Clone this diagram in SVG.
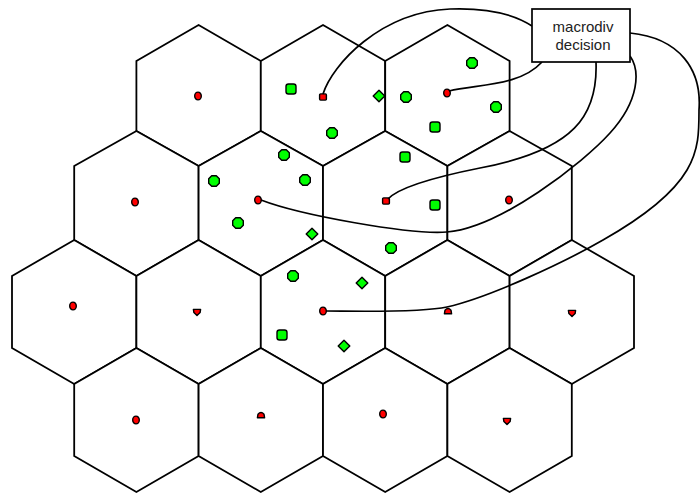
<svg xmlns="http://www.w3.org/2000/svg" xmlns:xlink="http://www.w3.org/1999/xlink" width="700" height="494" viewBox="0 0 700 494">
<style>
.cell{fill:#fff;stroke:#000;stroke-width:1.8;stroke-linejoin:miter}
.bs{fill:#f00;stroke:#000;stroke-width:1.4;stroke-linejoin:round}
.ms{fill:#00ff00;stroke:#000;stroke-width:1.4;stroke-linejoin:round}
.link{fill:none;stroke:#000;stroke-width:1.7}
.box{fill:#fff;stroke:#000;stroke-width:1.7}
.lbl{font-family:"Liberation Sans",Arial,sans-serif;font-size:15px;fill:#222;text-anchor:middle}
</style>
<defs>
<polygon id="oct" class="ms" points="-2.3,-5.3 2.3,-5.3 5.3,-2.3 5.3,2.3 2.3,5.3 -2.3,5.3 -5.3,2.3 -5.3,-2.3"/>
<rect id="sq" class="ms" x="-5" y="-5" width="10" height="10" rx="2.5"/>
<polygon id="dia" class="ms" points="0,-5.8 5.8,0 0,5.8 -5.8,0"/>
<ellipse id="bsE" class="bs" rx="3.3" ry="3.9"/>
<rect id="bsS" class="bs" x="-3.4" y="-3.1" width="6.8" height="6.2" rx="1"/>
<path id="bsH" class="bs" d="M-3.6,-2.6 L3.6,-2.6 L3.1,0.6 L0,3.6 L-3.1,0.6 Z"/>
<path id="bsT" class="bs" d="M-3.6,2.8 L-3,-0.8 Q0,-4.2 3,-0.8 L3.6,2.8 Z"/>
</defs>

<g id="cells">
<g id="cell-1-1"><polygon class="cell" points="198.6,25 260.8,61 260.8,131 198.6,166 136.4,131 136.4,61"/><use xlink:href="#bsE" x="198" y="96"/></g>
<g id="cell-1-2"><polygon class="cell" points="323,25 385.2,61 385.2,131 323,166 260.8,131 260.8,61"/><use xlink:href="#bsS" x="323" y="97"/></g>
<g id="cell-1-3"><polygon class="cell" points="447.4,25 509.6,61 509.6,131 447.4,166 385.2,131 385.2,61"/><use xlink:href="#bsE" x="447" y="93"/></g>

<g id="cell-2-1"><polygon class="cell" points="136.4,131 198.6,166 198.6,240 136.4,276 74.2,240 74.2,166"/><use xlink:href="#bsE" x="135" y="202"/></g>
<g id="cell-2-2"><polygon class="cell" points="260.8,131 323,166 323,240 260.8,276 198.6,240 198.6,166"/><use xlink:href="#bsE" x="258" y="200"/></g>
<g id="cell-2-3"><polygon class="cell" points="385.2,131 447.4,166 447.4,240 385.2,276 323,240 323,166"/><use xlink:href="#bsS" x="386" y="201"/></g>
<g id="cell-2-4"><polygon class="cell" points="509.6,131 571.8,166 571.8,240 509.6,276 447.4,240 447.4,166"/><use xlink:href="#bsE" x="509" y="200"/></g>

<g id="cell-3-1"><polygon class="cell" points="74.2,240 136.4,276 136.4,348 74.2,384 12,348 12,276"/><use xlink:href="#bsE" x="73" y="306"/></g>
<g id="cell-3-2"><polygon class="cell" points="198.6,240 260.8,276 260.8,348 198.6,384 136.4,348 136.4,276"/><use xlink:href="#bsH" x="197" y="312"/></g>
<g id="cell-3-3"><polygon class="cell" points="323,240 385.2,276 385.2,348 323,384 260.8,348 260.8,276"/><use xlink:href="#bsE" x="323" y="311"/></g>
<g id="cell-3-4"><polygon class="cell" points="447.4,240 509.6,276 509.6,348 447.4,384 385.2,348 385.2,276"/><use xlink:href="#bsT" x="448" y="311"/></g>
<g id="cell-3-5"><polygon class="cell" points="571.8,240 634,276 634,348 571.8,384 509.6,348 509.6,276"/><use xlink:href="#bsH" x="572" y="313"/></g>

<g id="cell-4-1"><polygon class="cell" points="136.4,348 198.6,384 198.6,456 136.4,492 74.2,456 74.2,384"/><use xlink:href="#bsE" x="136" y="420"/></g>
<g id="cell-4-2"><polygon class="cell" points="260.8,348 323,384 323,456 260.8,492 198.6,456 198.6,384"/><use xlink:href="#bsT" x="261" y="415"/></g>
<g id="cell-4-3"><polygon class="cell" points="385.2,348 447.4,384 447.4,456 385.2,492 323,456 323,384"/><use xlink:href="#bsE" x="383" y="414"/></g>
<g id="cell-4-4"><polygon class="cell" points="509.6,348 571.8,384 571.8,456 509.6,492 447.4,456 447.4,384"/><use xlink:href="#bsH" x="507" y="421"/></g>
</g>

<g id="mobiles">
<use id="ms1" xlink:href="#sq" x="291" y="89"/>
<use id="ms2" xlink:href="#dia" x="379" y="96"/>
<use id="ms3" xlink:href="#oct" x="406" y="97"/>
<use id="ms4" xlink:href="#oct" x="472" y="63"/>
<use id="ms5" xlink:href="#oct" x="496" y="107"/>
<use id="ms6" xlink:href="#sq" x="435" y="127"/>
<use id="ms7" xlink:href="#oct" x="332" y="133"/>
<use id="ms8" xlink:href="#oct" x="284" y="155"/>
<use id="ms9" xlink:href="#sq" x="405" y="157"/>
<use id="ms10" xlink:href="#oct" x="214" y="181"/>
<use id="ms11" xlink:href="#oct" x="305" y="180"/>
<use id="ms12" xlink:href="#sq" x="435" y="205"/>
<use id="ms13" xlink:href="#oct" x="238" y="223"/>
<use id="ms14" xlink:href="#dia" x="312" y="234"/>
<use id="ms15" xlink:href="#oct" x="391" y="248"/>
<use id="ms16" xlink:href="#oct" x="293" y="276"/>
<use id="ms17" xlink:href="#dia" x="362" y="283"/>
<use id="ms18" xlink:href="#sq" x="282" y="335"/>
<use id="ms19" xlink:href="#dia" x="344" y="346"/>
</g>

<g id="connectors">
<path class="link" d="M323,94 C332,65 380,12 450,9 C490,7.5 515,15 532,26"/>
<path class="link" d="M449,91 C480,84 520,86 542,62"/>
<path class="link" d="M596,62 C598,115 575,150 480,168 C440,176 400,186 388,199"/>
<path class="link" d="M630,56 C640,70 640,100 610,133 C583,163 500,228 447,232 C410,235 300,215 261,200"/>
<path class="link" d="M630,33 C680,38 702,70 699,110 C699,150 700,185 603,240 C563,263 490,297 447,307 C420,313 350,311 326,311"/>
</g>

<g id="macrodiv">
<rect class="box" x="532" y="9" width="98" height="53"/>
<text class="lbl" x="583" y="32">macrodiv</text>
<text class="lbl" x="583" y="50">decision</text>
</g>
</svg>
